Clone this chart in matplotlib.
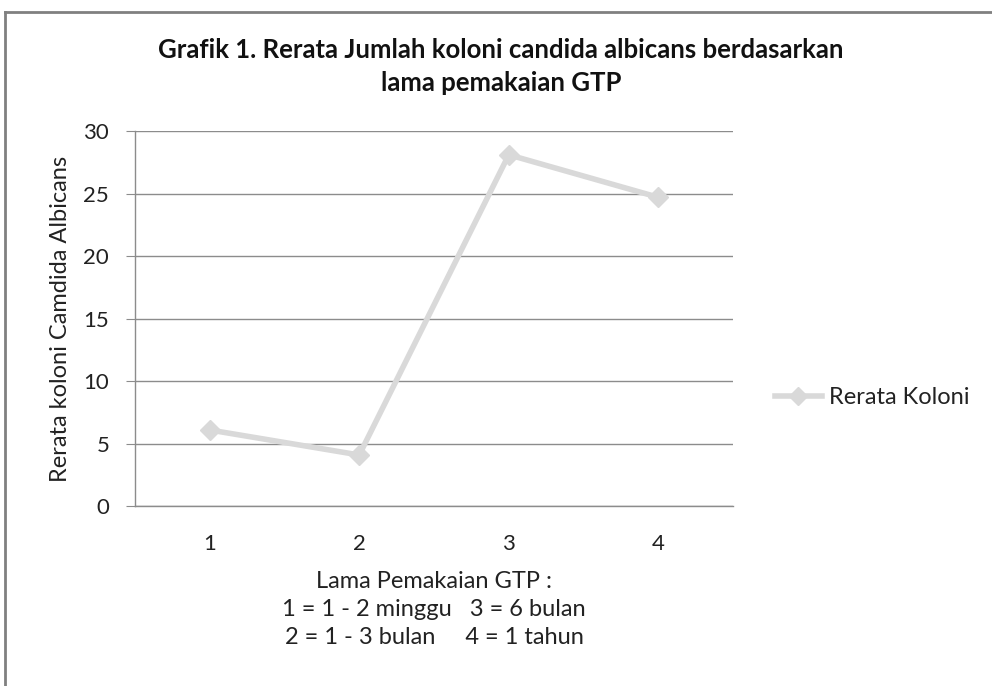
import matplotlib.pyplot as plt
from matplotlib.lines import Line2D

plt.rcParams['font.family'] = ['Lato', 'DejaVu Sans']

categories = ["1", "2", "3", "4"]
rerata_koloni = [6.1, 4.1, 28.1, 24.7]
y_ticks = [0, 5, 10, 15, 20, 25, 30]

title = "Grafik 1. Rerata Jumlah koloni candida albicans berdasarkan\nlama pemakaian GTP"
y_label = "Rerata koloni Camdida Albicans"
x_label = ("Lama Pemakaian GTP :\n"
           "1 = 1 - 2 minggu   3 = 6 bulan\n"
           "2 = 1 - 3 bulan     4 = 1 tahun")
series_name = "Rerata Koloni"

grid_col = "#8c8c8c"
line_col = "#d9d9d9"
text_col = "#222222"

fig = plt.figure(figsize=(9.92, 6.86), dpi=100)
ax = fig.add_axes([0.136, 0.262, 0.603, 0.547])

xs = list(range(1, len(categories) + 1))
ax.plot(xs, rerata_koloni, color=line_col, linewidth=4, marker="D",
        markersize=10, markerfacecolor=line_col, markeredgecolor=line_col,
        zorder=3)

ax.set_xlim(0.5, len(categories) + 0.5)
ax.set_ylim(0, 30)
ax.set_yticks(y_ticks)
ax.set_xticks(xs)
ax.set_xticklabels(categories)
ax.yaxis.grid(True, color=grid_col, linewidth=1)
ax.set_axisbelow(True)

for s in ["top", "right"]:
    ax.spines[s].set_visible(False)
for s in ["left", "bottom"]:
    ax.spines[s].set_color(grid_col)
    ax.spines[s].set_linewidth(1)

ax.tick_params(axis="y", length=6.5, color=grid_col, labelsize=16,
               labelcolor=text_col, pad=12)
ax.tick_params(axis="x", length=0, labelsize=16, labelcolor=text_col, pad=20)

ax.set_ylabel(y_label, fontsize=17, color=text_col, labelpad=9)
ax.set_xlabel(x_label, fontsize=17, color=text_col, labelpad=12,
              linespacing=1.42)

fig.text(0.505, 0.903, title, ha="center", va="center", fontsize=18.5,
         fontweight="bold", color="#111111", linespacing=1.45)

handle = Line2D([], [], color=line_col, linewidth=4, marker="D",
                markersize=9, markerfacecolor=line_col,
                markeredgecolor=line_col)
fig.legend([handle], [series_name], loc="center left",
           bbox_to_anchor=(0.781, 0.42), frameon=False, fontsize=17,
           handlelength=2.0, handletextpad=0.3, borderaxespad=0,
           borderpad=0, labelcolor=text_col)

# chart frame (only top and left edges visible in the reference)
fig.add_artist(Line2D([0.005, 1.0], [0.983, 0.983], color="#808080",
                      linewidth=2, transform=fig.transFigure))
fig.add_artist(Line2D([0.005, 0.005], [0.0, 0.983], color="#808080",
                      linewidth=2, transform=fig.transFigure))

fig.savefig("out.png", dpi=100)
